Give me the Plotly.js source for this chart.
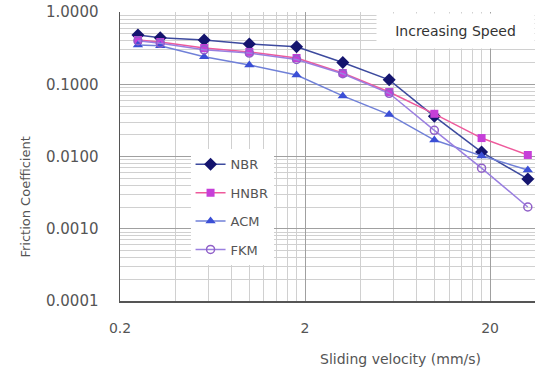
<!DOCTYPE html>
<html>
<head>
<meta charset="utf-8">
<script src="https://cdn.plot.ly/plotly-3.0.1.min.js"></script>
<style>html,body{margin:0;padding:0;background:#fff}#chart{width:535px;height:381px}</style>
</head>
<body>
<div id="chart"></div>
<script>
// Sliding velocity (mm/s)
const velocity = [0.25, 0.33, 0.57, 1.0, 1.8, 3.2, 5.7, 10, 18, 32];
// Friction coefficient per material
const nbr  = [0.48, 0.44, 0.41, 0.36, 0.33, 0.20, 0.115, 0.036, 0.0115, 0.0049];
const hnbr = [0.41, 0.384, 0.317, 0.28, 0.231, 0.143, 0.078, 0.039, 0.018, 0.0105];
const acm  = [0.35, 0.34, 0.24, 0.185, 0.134, 0.069, 0.038, 0.0169, 0.0102, 0.0065];
const fkm  = [0.40, 0.37, 0.30, 0.27, 0.22, 0.14, 0.075, 0.023, 0.0069, 0.0020];
const seriesNames = ['NBR', 'HNBR', 'ACM', 'FKM'];
const xTickVals = [0.2, 2, 20];
const xTickText = ['0.2', '2', '20'];
const yTickVals = [1, 0.1, 0.01, 0.001, 0.0001];
const yTickText = ['1.0000', '0.1000', '0.0100', '0.0010', '0.0001'];

const FONT = 'DejaVu Sans, Liberation Sans, sans-serif';
const TXT = '#555555';

// minor gridline positions (2..9 within each decade), following the axis start
function minorLog(start, decades) {
  const out = [];
  for (let k = 0; k < decades; k++) {
    const base = start * Math.pow(10, k);
    for (let d = 2; d <= 9; d++) out.push(base * d);
  }
  return out;
}

const styles = [
  {line: '#3d4a9e', marker: {symbol: 'diamond', color: '#14146e', size: 10}},
  {line: '#ee5a9c', marker: {symbol: 'square', color: '#c63fd8', size: 8}},
  {line: '#7080d8', marker: {symbol: 'triangle-up', color: '#3b4fd6', size: 9}},
  {line: '#9a7fe0', marker: {symbol: 'circle-open', color: '#9060c8', size: 8, line: {width: 1.5}}}
];
const ys = [nbr, hnbr, acm, fkm];

const traces = ys.map((y, i) => ({
  x: velocity, y: y, name: seriesNames[i], type: 'scatter', mode: 'lines+markers',
  legendgroup: 'g' + i,
  line: {color: styles[i].line, width: 1.5},
  marker: styles[i].marker
}));

const layout = {
  width: 535, height: 381,
  margin: {l: 120, r: 0, t: 12, b: 80},
  paper_bgcolor: '#ffffff', plot_bgcolor: '#ffffff',
  font: {family: FONT, color: TXT, size: 13},
  showlegend: true,
  legend: {
    x: 0.17, y: 0.525, xanchor: 'left', yanchor: 'top',
    bgcolor: '#ffffff', borderwidth: 0,
    font: {family: FONT, size: 13, color: TXT},
    tracegroupgap: 8.5, traceorder: 'grouped'
  },
  xaxis: {
    type: 'log',
    range: [Math.log10(0.2), 1.544],
    tickmode: 'array', tickvals: xTickVals, ticktext: xTickText,
    ticks: '', ticklabelstandoff: 14,
    tickfont: {family: FONT, size: 14, color: TXT},
    showgrid: true, gridcolor: '#a0a0a0', gridwidth: 1,
    minor: {tickmode: 'array', tickvals: minorLog(0.2, 3), showgrid: true, gridcolor: '#d0d0d0', gridwidth: 1, ticks: ''},
    showline: true, linecolor: '#555555', linewidth: 1.5,
    zeroline: false
  },
  yaxis: {
    type: 'log',
    range: [-4, 0],
    tickmode: 'array', tickvals: yTickVals, ticktext: yTickText,
    ticks: '', ticklabelstandoff: 17,
    tickfont: {family: FONT, size: 15, color: TXT},
    showgrid: true, gridcolor: '#a0a0a0', gridwidth: 1,
    minor: {tickmode: 'array', tickvals: minorLog(0.0001, 4), showgrid: true, gridcolor: '#d0d0d0', gridwidth: 1, ticks: ''},
    showline: true, linecolor: '#555555', linewidth: 1.5,
    zeroline: false
  },
  annotations: [
    {text: 'Increasing Speed', xref: 'paper', yref: 'paper', x: 1.0, y: 0.995,
     xanchor: 'right', yanchor: 'top', showarrow: false,
     bgcolor: '#ffffff', width: 155, height: 32,
     font: {family: FONT, size: 14, color: '#333333'}},
    {text: 'Sliding velocity (mm/s)', xref: 'paper', yref: 'paper', x: (400 - 120) / 415, y: -0.2,
     xanchor: 'center', yanchor: 'middle', showarrow: false,
     font: {family: FONT, size: 14, color: TXT}},
    {text: 'Friction Coefficient', xref: 'paper', yref: 'paper', x: -0.23, y: (301 - 197) / 289,
     xanchor: 'center', yanchor: 'middle', showarrow: false, textangle: -90,
     font: {family: FONT, size: 13, color: TXT}}
  ]
};

Plotly.newPlot('chart', traces, layout, {displayModeBar: false, staticPlot: true});
</script>
</body>
</html>
